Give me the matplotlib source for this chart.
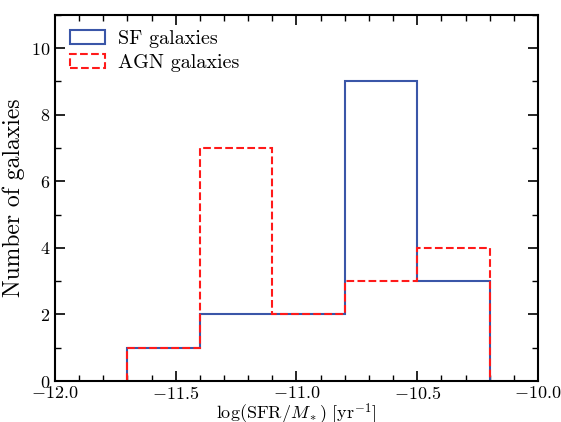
import numpy as np
import matplotlib
matplotlib.use('Agg')
import matplotlib.pyplot as plt

plt.rcParams['font.family'] = 'serif'
plt.rcParams['font.serif'] = ['cmr10', 'DejaVu Serif']
plt.rcParams['mathtext.fontset'] = 'cm'
plt.rcParams['axes.formatter.use_mathtext'] = True

bin_edges = [-11.7, -11.4, -11.1, -10.8, -10.5, -10.2]
sf_counts = [1, 2, 2, 9, 3]
agn_counts = [1, 7, 2, 3, 4]

centers = [(a + b) / 2 for a, b in zip(bin_edges[:-1], bin_edges[1:])]

fig = plt.figure(figsize=(5.61, 4.22), dpi=100)
ax = fig.add_axes([0.098, 0.097, 0.861, 0.868])

ax.hist(centers, bins=bin_edges, weights=sf_counts, histtype='step',
        color='#3a56a8', linewidth=1.5, label='SF galaxies')
ax.hist(centers, bins=bin_edges, weights=agn_counts, histtype='step',
        color='#ff1a1a', linewidth=1.5, linestyle='--', label='AGN galaxies')

ax.set_xlim(-12.0, -10.0)
ax.set_ylim(0, 11)
ax.set_xticks(np.arange(-12.0, -9.99, 0.5))
ax.set_xticks(np.arange(-12.0, -9.99, 0.1), minor=True)
ax.set_yticks([0, 2, 4, 6, 8, 10])
ax.set_yticks(range(0, 12), minor=True)
ax.tick_params(which='both', direction='in', top=True, right=True, labelsize=13)
ax.tick_params(axis='x', pad=2.5)
ax.tick_params(which='major', length=7, width=1.2)
ax.tick_params(which='minor', length=4, width=1.0)
for s in ax.spines.values():
    s.set_linewidth(1.5)

ax.set_xlabel(r'$\mathrm{log(SFR}/M_*)\ [\mathrm{yr}^{-1}]$', fontsize=13, labelpad=0)
ax.set_ylabel('Number of galaxies', fontsize=17)
ax.legend(loc='upper left', frameon=False, fontsize=14.5, handlelength=1.75,
          handletextpad=0.65, borderaxespad=0.35, labelspacing=0.3)

fig.savefig('out.png', dpi=100)
